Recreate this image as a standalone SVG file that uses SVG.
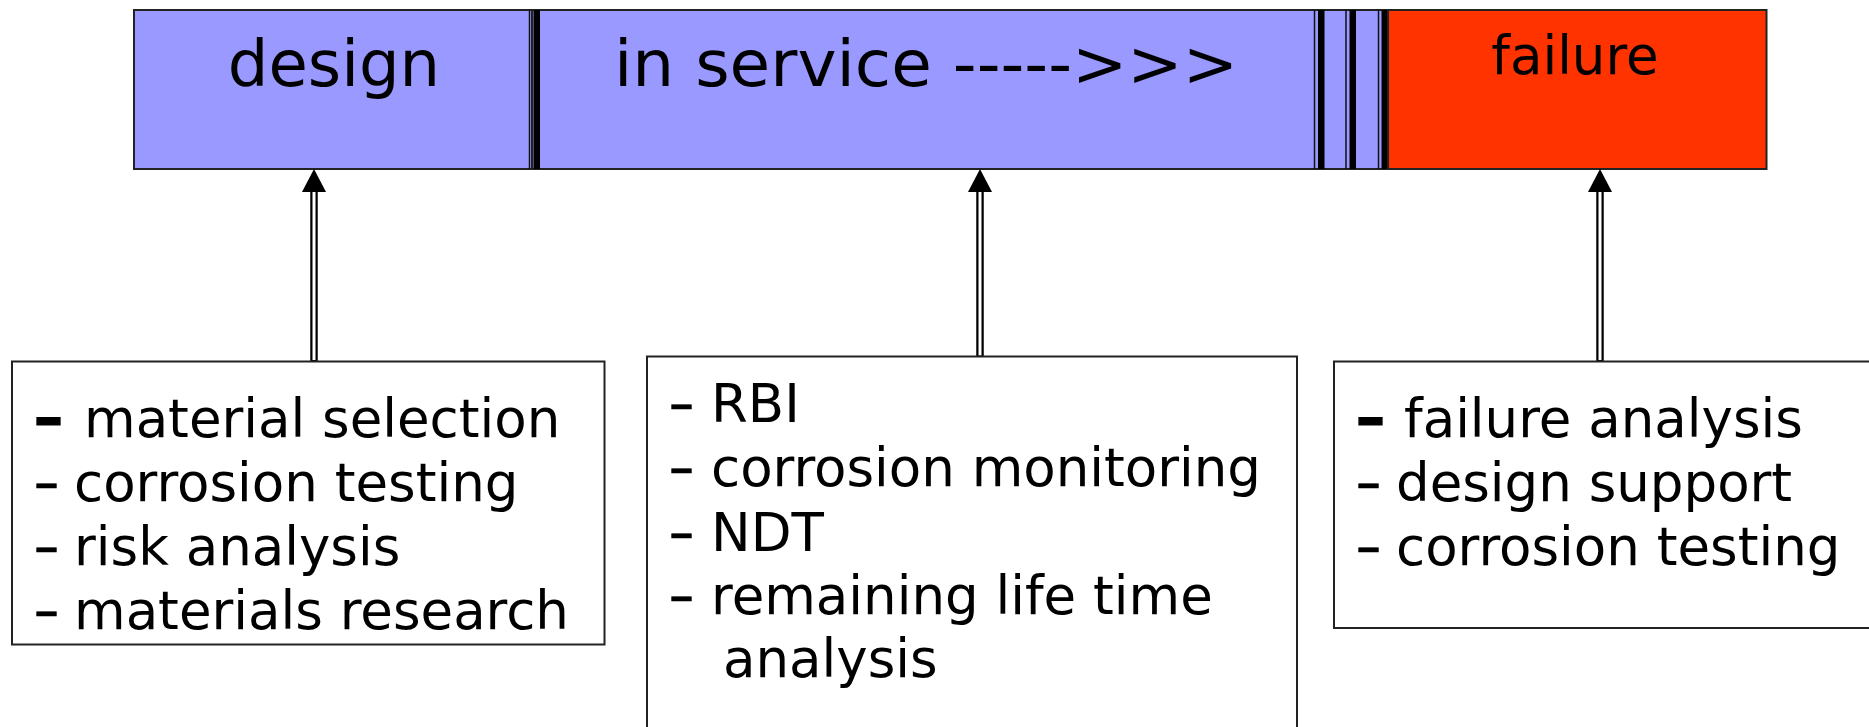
<svg xmlns="http://www.w3.org/2000/svg" width="1869" height="727" viewBox="0 0 1869 727">
  <style>
    text { font-family: "DejaVu Sans", Verdana, sans-serif; fill: #000; }
    .bar { stroke: #222; stroke-width: 2; }
    .blue { fill: #9999FF; }
    .red { fill: #FF3300; }
    .thin { stroke: #111; stroke-width: 1.5; }
    .thick { fill: #000; }
    .box { fill: #fff; stroke: #222; stroke-width: 2; }
    .big { font-size: 64px; }
    .mid { font-size: 53px; }
    .item { font-size: 53px; }
    .dash { font-size: 53px; stroke: #000; stroke-width: 0.4; }
    .bdash { font-size: 53px; font-weight: bold; stroke: #000; stroke-width: 1; }
    .outer { stroke: #000; stroke-width: 7.5; fill: none; }
    .inner { stroke: #fff; stroke-width: 3; fill: none; }
  </style>
  <defs>
    <marker id="head" markerUnits="userSpaceOnUse" viewBox="0 0 23 24" markerWidth="23" markerHeight="24" refX="0" refY="12" orient="auto">
      <path d="M0,0 L23,12 L0,24 z" fill="#000"/>
    </marker>
  </defs>

  <g id="timeline">
    <g id="phase-design">
      <rect class="bar blue" x="134" y="10" width="398" height="159"/>
      <text class="big" x="334" y="86" text-anchor="middle">design</text>
    </g>
    <g id="phase-in-service">
      <rect class="bar blue" x="532" y="10" width="856" height="159"/>
      <line class="thin" x1="529.5" y1="10" x2="529.5" y2="169"/>
      <rect class="thick" x="533.5" y="10" width="6.5" height="159"/>
      <text class="big" x="614" y="86" textLength="624" lengthAdjust="spacingAndGlyphs">in service -----&gt;&gt;&gt;</text>
      <line class="thin" x1="1314.5" y1="10" x2="1314.5" y2="169"/>
      <rect class="thick" x="1318" y="10" width="6.5" height="159"/>
      <line class="thin" x1="1346" y1="10" x2="1346" y2="169"/>
      <rect class="thick" x="1349.5" y="10" width="6.5" height="159"/>
      <line class="thin" x1="1378.5" y1="10" x2="1378.5" y2="169"/>
      <rect class="thick" x="1381.5" y="10" width="6.5" height="159"/>
    </g>
    <g id="phase-failure">
      <rect class="bar red" x="1388" y="10" width="378.5" height="159"/>
      <text class="mid" x="1575" y="74" text-anchor="middle">failure</text>
    </g>
  </g>

  <g id="connectors">
    <path class="outer" d="M314,361 L314,192" marker-end="url(#head)"/>
    <path class="inner" d="M314,360 L314,192"/>
    <path class="outer" d="M980,356.5 L980,192" marker-end="url(#head)"/>
    <path class="inner" d="M980,355.5 L980,192"/>
    <path class="outer" d="M1600,361 L1600,192" marker-end="url(#head)"/>
    <path class="inner" d="M1600,360 L1600,192"/>
  </g>

  <g id="box-design">
    <rect class="box" x="12" y="361.5" width="592.5" height="283"/>
    <text class="bdash" x="33" y="437" textLength="31" lengthAdjust="spacingAndGlyphs">-</text>
    <text class="item" x="84" y="437">material selection</text>
    <text class="dash" x="33" y="501" textLength="27" lengthAdjust="spacingAndGlyphs">-</text>
    <text class="item" x="74" y="501">corrosion testing</text>
    <text class="dash" x="33" y="565" textLength="27" lengthAdjust="spacingAndGlyphs">-</text>
    <text class="item" x="74" y="565">risk analysis</text>
    <text class="dash" x="33" y="629" textLength="27" lengthAdjust="spacingAndGlyphs">-</text>
    <text class="item" x="74" y="629">materials research</text>
  </g>

  <g id="box-in-service">
    <rect class="box" x="647" y="356.5" width="650" height="390"/>
    <text class="dash" x="668" y="422" textLength="27" lengthAdjust="spacingAndGlyphs">-</text>
    <text class="item" x="711" y="422">RBI</text>
    <text class="dash" x="668" y="486" textLength="27" lengthAdjust="spacingAndGlyphs">-</text>
    <text class="item" x="711" y="486">corrosion monitoring</text>
    <text class="dash" x="668" y="551" textLength="27" lengthAdjust="spacingAndGlyphs">-</text>
    <text class="item" x="711" y="551">NDT</text>
    <text class="dash" x="668" y="614" textLength="27" lengthAdjust="spacingAndGlyphs">-</text>
    <text class="item" x="711" y="614">remaining life time</text>
    <text class="item" x="723" y="677">analysis</text>
  </g>

  <g id="box-failure">
    <rect class="box" x="1334" y="361.5" width="560" height="266.5"/>
    <text class="bdash" x="1355" y="437" textLength="31" lengthAdjust="spacingAndGlyphs">-</text>
    <text class="item" x="1404" y="437">failure analysis</text>
    <text class="dash" x="1355" y="501" textLength="27" lengthAdjust="spacingAndGlyphs">-</text>
    <text class="item" x="1396" y="501">design support</text>
    <text class="dash" x="1355" y="565" textLength="27" lengthAdjust="spacingAndGlyphs">-</text>
    <text class="item" x="1396" y="565">corrosion testing</text>
  </g>
</svg>
